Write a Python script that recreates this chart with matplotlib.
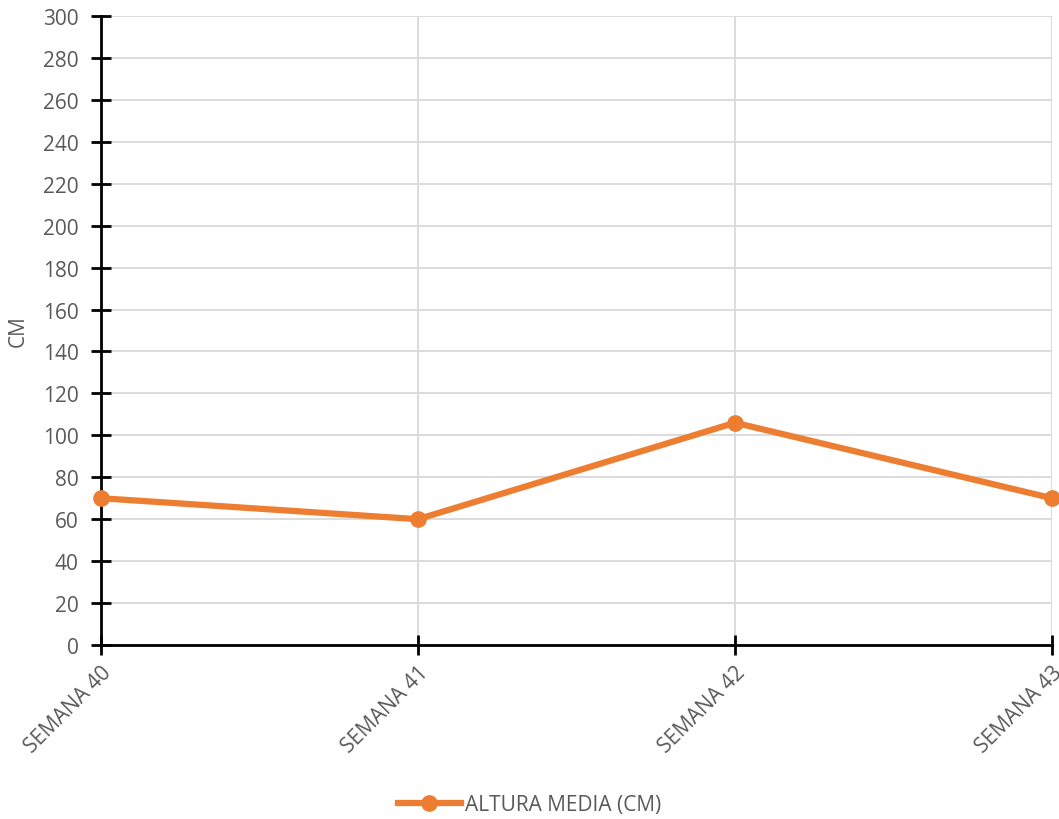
import matplotlib.pyplot as plt

plt.rcParams['font.family'] = ['Open Sans', 'DejaVu Sans']

semanas = ["SEMANA 40", "SEMANA 41", "SEMANA 42", "SEMANA 43"]
altura_media = [70, 60, 106, 70]

orange = "#ED7D31"
grey_text = "#595959"

fig = plt.figure(figsize=(10.59, 8.2), dpi=100)
ax = fig.add_axes([0.0954, 0.2122, 0.898, 0.7671])

x = list(range(len(semanas)))
ax.plot(x, altura_media, color=orange, linewidth=4.5, marker="o",
        markersize=11, label="ALTURA MEDIA (CM)", clip_on=False, zorder=3)

ax.set_xlim(0, len(semanas) - 1)
ax.set_ylim(0, 300)
ax.set_yticks(range(0, 301, 20))
ax.set_xticks(x)
ax.set_xticklabels(semanas, rotation=45, ha="right", rotation_mode="anchor",
                   fontsize=16)

ax.grid(True, color="#d9d9d9", linewidth=1.3)
ax.set_axisbelow(True)

for side in ["top", "right"]:
    ax.spines[side].set_visible(False)
for side in ["left", "bottom"]:
    ax.spines[side].set_linewidth(2)
    ax.spines[side].set_color("black")

ax.tick_params(axis="both", direction="inout", length=14, width=2,
               colors="black", labelcolor=grey_text, labelsize=15)
ax.tick_params(axis="y", pad=9)
ax.tick_params(axis="x", pad=5)

ax.set_ylabel("CM", color=grey_text, fontsize=15, labelpad=10)

fig.legend(loc="lower center", bbox_to_anchor=(0.5, -0.018), frameon=False,
           fontsize=15, labelcolor=grey_text, handlelength=3, handletextpad=0.2)

fig.savefig("out.png", dpi=100)
